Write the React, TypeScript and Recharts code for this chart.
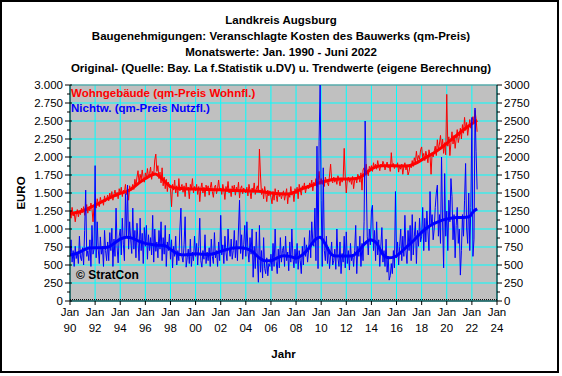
import { LineChart, Line, XAxis, YAxis, CartesianGrid, ReferenceLine } from "recharts";

const TITLE = [
  "Landkreis Augsburg",
  "Baugenehmigungen: Veranschlagte Kosten des Bauwerks (qm-Preis)",
  "Monatswerte: Jan. 1990 - Juni 2022",
  "Original- (Quelle: Bay. La f.Statistik u.DV) u. Trendwerte (eigene Berechnung)",
];

const START_YEAR = 1990;
const YEAR_TICKS = [1990, 1992, 1994, 1996, 1998, 2000, 2002, 2004, 2006, 2008, 2010, 2012, 2014, 2016, 2018, 2020, 2022, 2024];
const VALUE_TICKS = [0, 250, 500, 750, 1000, 1250, 1500, 1750, 2000, 2250, 2500, 2750, 3000];
const MINOR_TICKS = [0, 125, 250, 375, 500, 625, 750, 875, 1000, 1125, 1250, 1375, 1500, 1625, 1750, 1875, 2000, 2125, 2250, 2375, 2500, 2625, 2750, 2875, 3000];

// Wohngebaeude, EUR per qm, monthly Jan 1990 - Jun 2022
const wohnMonthly = [
  1260, 1150, 1300, 1180, 1230, 1100, 1210, 1270, 1170, 1240, 1200, 1290,
  1230, 1310, 1190, 1280, 1340, 1220, 1300, 1250, 1360, 1280, 1100, 1330,
  1380, 1290, 1420, 1350, 1310, 1440, 1370, 1400, 1330, 1460, 1380, 1420,
  1470, 1390, 1500, 1430, 1520, 1400, 1480, 1540, 1450, 1510, 1420, 1560,
  1490, 1580, 1450, 1540, 1510, 1620, 1480, 1550, 1400, 1600, 1530, 1570,
  1620, 1550, 1690, 1600, 1720, 1810, 1640, 1760, 1680, 1820, 1700, 1650,
  1780, 1700, 1840, 1720, 1770, 1860, 1690, 1800, 1750, 1960, 2040, 1800,
  1880, 1700, 1790, 1640, 1850, 1600, 1720, 1560, 1690, 1520, 1650, 1580,
  1560, 1310, 1620, 1540, 1680, 1500, 1600, 1450, 1700, 1530, 1580, 1620,
  1510, 1600, 1450, 1640, 1540, 1580, 1420, 1620, 1560, 1700, 1500, 1590,
  1530, 1620, 1480, 1590, 1380, 1560, 1640, 1500, 1580, 1450, 1610, 1540,
  1600, 1470, 1570, 1650, 1520, 1440, 1580, 1610, 1490, 1560, 1680, 1530,
  1570, 1480, 1620, 1540, 1410, 1590, 1520, 1660, 1500, 1560, 1450, 1600,
  1540, 1610, 1470, 1580, 1520, 1650, 1430, 1560, 1600, 1490, 1570, 1520,
  1500, 1580, 1460, 1620, 1530, 1420, 1570, 1510, 1640, 1480, 1550, 1600,
  1520, 2110, 1750, 1480, 1560, 1420, 1590, 1500, 1380, 1540, 1460, 1530,
  1440, 1350, 1520, 1400, 1560, 1470, 1380, 1540, 1450, 1500, 1420, 1480,
  1530, 1400, 1480, 1560, 1350, 1500, 1440, 1590, 1470, 1520, 1380, 1560,
  1490, 1580, 1420, 1620, 1540, 1470, 1600, 1560, 1640, 1500, 1580, 1610,
  1560, 1640, 1590, 1680, 1530, 1650, 1600, 1700, 1580, 1660, 1800, 1620,
  1700, 1620, 1680, 1590, 1720, 1660, 1640, 1600, 1750, 1900, 1680, 1640,
  1720, 1650, 1700, 1620, 1740, 1680, 1600, 1710, 1650, 1690, 2120, 1720,
  1500, 1690, 1720, 1650, 1700, 1620, 1730, 1560, 1680, 1710, 1640, 1760,
  1720, 1650, 1780, 1540, 1820, 1850, 1760, 1900, 1790, 1740, 1870, 1830,
  1880, 1800, 1920, 1850, 1900, 1830, 1950, 1870, 1810, 1900, 1860, 1940,
  1900, 1820, 1880, 1930, 1850, 1890, 1800, 2060, 1870, 1910, 1840, 1880,
  1860, 1920, 1790, 1880, 1830, 1900, 1760, 1870, 1920, 1820, 1880, 1750,
  1800, 1900, 1850, 1950, 1870, 1990, 1920, 2080, 1950, 2020, 1970, 2100,
  2140, 1990, 2050, 1950, 2080, 2010, 1920, 2100, 2020, 1760, 2060, 2000,
  2080, 2150, 2020, 2240, 2100, 2180, 2300, 2120, 2250, 2050, 2200, 2030,
  2870, 2150, 2280, 2020, 2200, 2350, 2180, 2300, 2120, 2250, 2380, 2200,
  2280, 2400, 2250, 2450, 2330, 2550, 2370, 2480, 2300, 2420, 2520, 2400,
  2500, 2560, 2480, 2650, 2530, 2350,
];

// Nichtwohngebaeude, EUR per qm Nutzflaeche, monthly Jan 1990 - Jun 2022
const nichtwMonthly = [
  620, 850, 540, 700, 480, 760, 590, 680, 520, 900, 610, 560,
  740, 500, 980, 1540, 620, 700, 560, 850, 480, 1050, 650, 720,
  1880, 600, 1100, 720, 520, 890, 650, 760, 480, 980, 700, 560,
  820, 560, 950, 700, 1010, 480, 860, 620, 1290, 750, 530, 900,
  1000, 640, 1150, 780, 560, 1490, 900, 1610, 720, 1100, 850, 660,
  1290, 720, 980, 600, 1080, 820, 560, 1150, 700, 940, 520, 1020,
  760, 1050, 580, 920, 700, 880, 640, 1190, 540, 1000, 690, 820,
  600, 980, 720, 1100, 560, 880, 650, 1050, 480, 820, 700, 930,
  580, 850, 460, 760, 620, 900, 500, 700, 560, 1000, 1290, 620,
  540, 780, 1170, 470, 600, 720, 520, 860, 480, 680, 560, 900,
  620, 800, 500, 760, 1150, 560, 470, 700, 580, 920, 520, 680,
  560, 740, 480, 860, 620, 520, 950, 600, 700, 480, 820, 560,
  1190, 640, 780, 520, 900, 680, 560, 1000, 740, 620, 860, 580,
  700, 980, 600, 840, 560, 1000, 1400, 660, 920, 580, 780, 1050,
  620, 1100, 700, 540, 880, 650, 1000, 330, 760, 450, 960, 600,
  260, 1050, 400, 700, 320, 880, 450, 380, 600, 350, 520, 480,
  650, 420, 800, 480, 1000, 550, 380, 720, 460, 880, 540, 700,
  760, 480, 900, 560, 680, 420, 820, 540, 1000, 600, 460, 720,
  520, 800, 440, 700, 560, 380, 760, 500, 880, 620, 780, 540,
  700, 980, 600, 1100, 820, 760, 1290, 560, 2150, 450, 2210, 3000,
  1400, 480, 1850, 700, 560, 900, 520, 750, 450, 640, 820, 500,
  560, 720, 440, 1000, 600, 480, 820, 380, 660, 540, 900, 460,
  960, 520, 700, 430, 800, 560, 650, 480, 700, 1050, 380, 760,
  620, 900, 480, 800, 560, 1100, 2500, 1750, 900, 640, 1000, 780,
  1250, 1330, 700, 980, 560, 1100, 640, 850, 480, 760, 1020, 540,
  700, 480, 860, 400, 620, 290, 350, 520, 380, 700, 460, 1520,
  600, 820, 500, 760, 1000, 560, 900, 620, 1190, 700, 520, 980,
  700, 1050, 560, 1200, 640, 900, 1100, 520, 980, 760, 1150, 820,
  900, 1300, 700, 1150, 820, 1250, 960, 700, 1520, 1050, 1200, 850,
  1000, 1300, 1500, 1610, 900, 1200, 800, 2000, 1100, 460, 1770, 900,
  1250, 700, 1400, 1100, 1700, 1450, 850, 1200, 600, 1050, 1300, 800,
  1000, 360, 700, 1200, 900, 1400, 1910, 1000, 800, 1500, 700, 1300,
  2550, 620, 850, 2680, 2080, 1550,
];

// trend values (own calculation), read at the marked dates
const wohnTrendYear = [1990, 1990.5, 1991, 1991.5, 1992, 1992.5, 1993, 1993.5, 1994, 1994.5, 1995, 1995.5, 1996, 1996.5, 1996.8, 1997.2, 1997.6, 1998, 1998.5, 1999, 2000, 2001, 2002, 2003, 2004, 2005, 2006, 2006.7, 2007.3, 2008, 2008.5, 2009, 2009.5, 2010, 2010.5, 2011, 2012, 2012.8, 2013.3, 2013.8, 2014.3, 2014.8, 2015.5, 2016.3, 2017, 2017.5, 2018, 2018.5, 2019, 2019.5, 2020, 2020.5, 2021, 2021.5, 2022, 2022.42];
const wohnTrendValue = [1215, 1230, 1250, 1290, 1330, 1375, 1420, 1460, 1495, 1520, 1570, 1640, 1700, 1750, 1765, 1720, 1650, 1590, 1565, 1560, 1555, 1548, 1545, 1535, 1530, 1525, 1500, 1490, 1485, 1520, 1560, 1590, 1620, 1650, 1670, 1690, 1695, 1700, 1740, 1810, 1860, 1880, 1880, 1875, 1880, 1910, 1960, 2010, 2060, 2120, 2190, 2260, 2330, 2400, 2460, 2510];

const nichtwTrendYear = [1990, 1990.5, 1991, 1991.5, 1992, 1992.5, 1993, 1993.5, 1994, 1994.5, 1995, 1995.5, 1996, 1996.5, 1997, 1997.5, 1998, 1998.5, 1999, 1999.5, 2000, 2000.5, 2001, 2001.5, 2002, 2002.5, 2003, 2003.5, 2004, 2004.5, 2005, 2005.5, 2006, 2006.5, 2007, 2007.5, 2008, 2008.5, 2009, 2009.5, 2009.9, 2010.3, 2010.7, 2011, 2011.5, 2012, 2012.5, 2013, 2013.5, 2013.9, 2014.4, 2014.9, 2015.4, 2015.8, 2016.3, 2016.8, 2017.3, 2017.8, 2018.3, 2018.8, 2019.3, 2019.8, 2020.3, 2020.8, 2021.3, 2021.8, 2022.1, 2022.42];
const nichtwTrendValue = [640, 660, 700, 735, 740, 740, 745, 800, 860, 885, 870, 830, 800, 785, 775, 770, 720, 660, 640, 645, 655, 650, 645, 660, 690, 715, 735, 740, 730, 690, 610, 560, 560, 600, 630, 620, 595, 640, 730, 850, 885, 800, 670, 630, 625, 625, 630, 700, 800, 850, 805, 650, 600, 610, 670, 750, 830, 920, 1000, 1060, 1100, 1130, 1150, 1160, 1160, 1170, 1240, 1280];

const W = 562;
const H = 376;
const PLOT_L = 70;
const PLOT_R = 497;
const PLOT_T = 85;
const PLOT_B = 301;
const HALF_STEP = (PLOT_B - PLOT_T) / 24;

const FONT = "Arial, 'Liberation Sans', sans-serif";
const RED = "#ff0000";
const BLUE = "#0000ff";
const TICK_FS = 11.5;
const BOLD_FS = 11.5;

const monthly = (vals: number[]) => vals.map((v, i) => ({ t: START_YEAR + i / 12, v }));
const pairs = (ts: number[], vs: number[]) => ts.map((t, i) => ({ t, v: vs[i] }));

const wohnData = monthly(wohnMonthly);
const nichtwData = monthly(nichtwMonthly);
const wohnTrend = pairs(wohnTrendYear, wohnTrendValue);
const nichtwTrend = pairs(nichtwTrendYear, nichtwTrendValue);

const deNum = (v: number) => (v >= 1000 ? `${Math.floor(v / 1000)}.${String(v % 1000).padStart(3, "0")}` : String(v));

function LeftTick({ y, payload }: any) {
  const v = payload.value;
  return (
    <g>
      <line x1={PLOT_L - 5} x2={PLOT_L + 2} y1={y} y2={y} stroke="#000" />
      {v > 0 && <line x1={PLOT_L - 3} x2={PLOT_L} y1={y + HALF_STEP} y2={y + HALF_STEP} stroke="#000" />}
      <text x={PLOT_L - 7} y={y + 4} textAnchor="end" fontSize={TICK_FS} fontFamily={FONT} fill="#000">
        {deNum(v)}
      </text>
    </g>
  );
}

function RightTick({ y, payload }: any) {
  const v = payload.value;
  const major = v % 250 === 0;
  return (
    <g>
      <line x1={PLOT_R} x2={PLOT_R + (major ? 5 : 3)} y1={y} y2={y} stroke="#000" />
      {major && (
        <text x={PLOT_R + 7} y={y + 4} textAnchor="start" fontSize={TICK_FS} fontFamily={FONT} fill="#000">
          {v}
        </text>
      )}
    </g>
  );
}

function YearTick({ x, payload }: any) {
  const yy = String(payload.value % 100).padStart(2, "0");
  return (
    <g fontSize={TICK_FS} fontFamily={FONT} fill="#000">
      <text x={x} y={PLOT_B + 15} textAnchor="middle">Jan</text>
      <text x={x} y={PLOT_B + 31} textAnchor="middle">{yy}</text>
    </g>
  );
}

export default function App() {
  return (
    <div style={{ position: "absolute", left: 0, top: 0, width: W, height: H, background: "#fff", fontFamily: FONT }}>
      <LineChart width={W} height={H} margin={{ top: PLOT_T, right: 0, bottom: 0, left: 0 }}>
        <CartesianGrid yAxisId="l" stroke="#00ffff" fill="#c0c0c0" fillOpacity={1} />
        <XAxis
          dataKey="t"
          type="number"
          domain={[1990, 2024]}
          ticks={YEAR_TICKS}
          interval={0}
          height={H - PLOT_B}
          allowDataOverflow
          stroke="#000"
          tickSize={4}
          tick={<YearTick />}
        />
        <YAxis yAxisId="l" orientation="left" width={PLOT_L} type="number" domain={[0, 3000]} ticks={VALUE_TICKS} interval={0} allowDataOverflow stroke="#000" tickLine={false} tick={<LeftTick />} />
        <YAxis yAxisId="r" orientation="right" width={W - PLOT_R} type="number" domain={[0, 3000]} ticks={MINOR_TICKS} interval={0} allowDataOverflow stroke="#000" tickLine={false} tick={<RightTick />} />
        <ReferenceLine yAxisId="l" y={3000} stroke="#808080" />
        <ReferenceLine yAxisId="l" y={20} stroke="#000" strokeDasharray="1 1" />
        <Line yAxisId="l" data={wohnData} dataKey="v" type="linear" stroke={RED} strokeWidth={1} dot={false} isAnimationActive={false} />
        <Line yAxisId="l" data={wohnTrend} dataKey="v" type="monotone" stroke={RED} strokeWidth={3} dot={false} isAnimationActive={false} />
        <Line yAxisId="l" data={nichtwData} dataKey="v" type="linear" stroke={BLUE} strokeWidth={1} dot={false} isAnimationActive={false} />
        <Line yAxisId="l" data={nichtwTrend} dataKey="v" type="monotone" stroke={BLUE} strokeWidth={3} dot={false} isAnimationActive={false} />
      </LineChart>

      {TITLE.map((line, i) => (
        <div key={i} style={{ position: "absolute", left: 0, top: 13 + i * 16, width: W, textAlign: "center", fontSize: BOLD_FS, fontWeight: "bold", lineHeight: "14px" }}>
          {line}
        </div>
      ))}
      <div style={{ position: "absolute", left: 71, top: 86, fontSize: BOLD_FS, fontWeight: "bold", color: RED, lineHeight: "14px" }}>Wohngebäude (qm-Preis Wohnfl.)</div>
      <div style={{ position: "absolute", left: 71, top: 101, fontSize: BOLD_FS, fontWeight: "bold", color: BLUE, lineHeight: "14px" }}>Nichtw. (qm-Preis Nutzfl.)</div>
      <div style={{ position: "absolute", left: 76, top: 267, fontSize: 12, fontWeight: "bold", color: "#000", lineHeight: "16px" }}>© StratCon</div>
      <div style={{ position: "absolute", left: 21, top: 193, fontSize: BOLD_FS, fontWeight: "bold", transform: "translate(-50%, -50%) rotate(-90deg)", lineHeight: "14px" }}>EURO</div>
      <div style={{ position: "absolute", left: PLOT_L, top: 347, width: PLOT_R - PLOT_L, textAlign: "center", fontSize: BOLD_FS, fontWeight: "bold", lineHeight: "14px" }}>Jahr</div>
      <div style={{ position: "absolute", left: 0, top: 0, width: 559, height: 373, border: "2px solid #000", boxSizing: "border-box", pointerEvents: "none" }} />
    </div>
  );
}
